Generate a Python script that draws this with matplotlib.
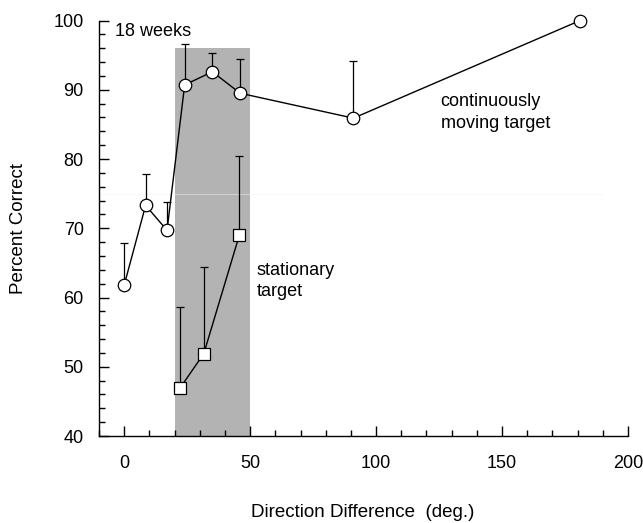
import numpy as np
import matplotlib.pyplot as plt
from matplotlib.ticker import MultipleLocator

plt.rcParams['font.family'] = ['Liberation Sans', 'DejaVu Sans']

# continuously moving target
moving_x = [0, 8.5, 17, 24, 35, 46, 91, 181]
moving_y = [61.8, 73.3, 69.7, 90.7, 92.6, 89.5, 85.9, 100]
moving_err = [6.0, 4.6, 4.1, 5.9, 2.7, 5.0, 8.2, 0]

# stationary target
stat_x = [22.3, 31.6, 45.7]
stat_y = [47.0, 51.9, 69.0]
stat_err = [11.6, 12.5, 11.5]

shade_x = (20, 50)
shade_top = 96

fig = plt.figure(figsize=(6.43, 5.23), dpi=100)
ax = fig.add_axes([0.154, 0.1663, 0.8227, 0.7945])

ax.fill_between(shade_x, 40, shade_top, color='#b3b3b3', lw=0, zorder=0)
ax.axhline(75, xmax=0.95, color='#f2f2f2', lw=0.6, alpha=0.6, zorder=0.5)

ax.errorbar(moving_x, moving_y, yerr=[np.zeros(len(moving_err)), moving_err],
            fmt='none', ecolor='black', elinewidth=0.9, capsize=3, capthick=0.9, zorder=2)
ax.errorbar(stat_x, stat_y, yerr=[np.zeros(len(stat_err)), stat_err],
            fmt='none', ecolor='black', elinewidth=0.9, capsize=3, capthick=0.9, zorder=2)
ax.plot(moving_x, moving_y, color='black', lw=1, marker='o', ms=9,
        mfc='white', mec='black', mew=0.9, zorder=3, clip_on=False)
ax.plot(stat_x, stat_y, color='black', lw=1, marker='s', ms=8,
        mfc='white', mec='black', mew=0.9, zorder=3, clip_on=False)

ax.set_xlim(-10, 200)
ax.set_ylim(40, 100)
ax.xaxis.set_major_locator(MultipleLocator(50))
ax.xaxis.set_minor_locator(MultipleLocator(10))
ax.yaxis.set_major_locator(MultipleLocator(10))
ax.yaxis.set_minor_locator(MultipleLocator(2))
ax.tick_params(axis='both', which='both', direction='in', width=1)
ax.tick_params(axis='both', which='major', length=7, labelsize=13)
ax.tick_params(axis='both', which='minor', length=4)
ax.tick_params(axis='x', pad=14)
ax.tick_params(axis='y', pad=11)

for s in ['top', 'right']:
    ax.spines[s].set_visible(False)
ax.spines['left'].set_linewidth(1)
ax.spines['bottom'].set_linewidth(1)

ax.set_xlabel('Direction Difference  (deg.)', fontsize=13.5, va='center')
ax.set_ylabel('Percent Correct', fontsize=13.5, va='center')
ax.xaxis.set_label_coords(0.499, -0.183)
ax.yaxis.set_label_coords(-0.153, 0.5)

ax.text(-3.7, 98.4, '18 weeks', fontsize=13, va='center', ha='left')
ax.text(52.5, 62.4, 'stationary\ntarget', fontsize=13, va='center', ha='left',
        linespacing=1.35)
ax.text(125.6, 86.7, 'continuously\nmoving target', fontsize=13, va='center', ha='left',
        linespacing=1.35)

plt.savefig('out.png', dpi=100)
